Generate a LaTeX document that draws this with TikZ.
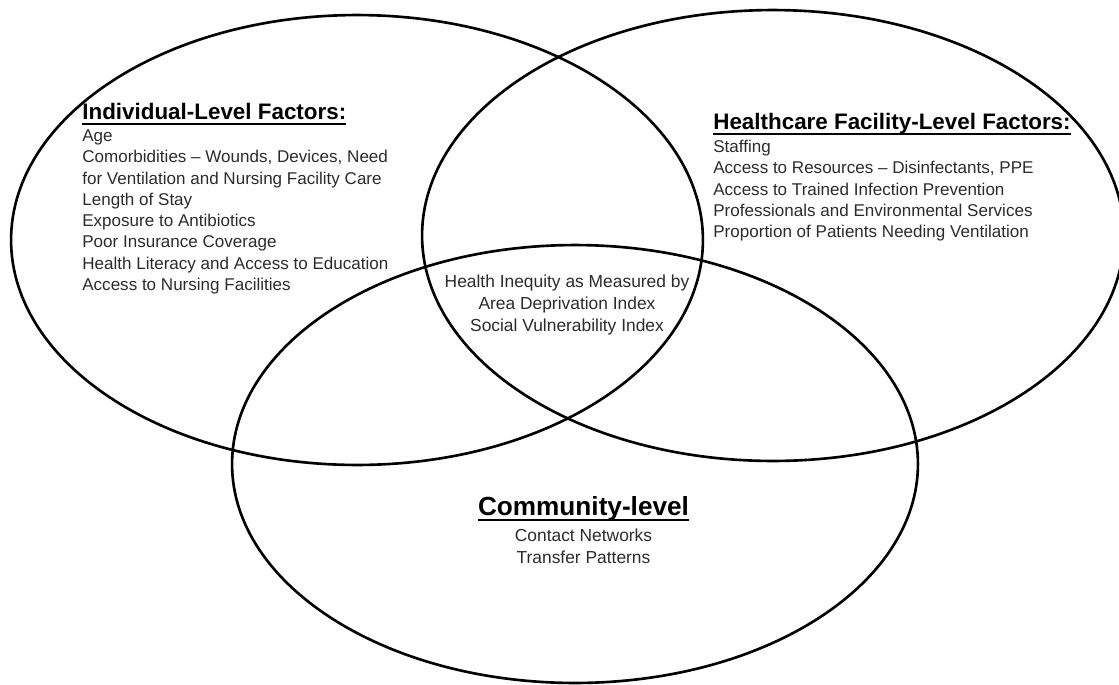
\documentclass[tikz,border=0pt]{standalone}
\usepackage{fontspec}
\setmainfont{Liberation Sans}
\usetikzlibrary{shapes.geometric, positioning}
\definecolor{vnntext}{HTML}{2B2B2B}
% thick underline for the headings
\newcommand{\vnnul}[1]{\setbox0\hbox{#1}\leavevmode\rlap{\rule[-3.15pt]{\wd0}{1.1pt}}\box0}
\tikzset{
  zone/.style={ellipse, draw=black, line width=1.5pt, inner sep=0pt},
  head/.style={font=\fontsize{12.75}{15}\selectfont\bfseries, inner sep=0pt, text=black},
  bighead/.style={font=\fontsize{14.9}{17}\selectfont\bfseries, inner sep=0pt, text=black},
  items/.style={font=\fontsize{9.7}{12.1}\selectfont, align=left, inner sep=0pt, text=vnntext},
  midtext/.style={font=\fontsize{9.9}{12.5}\selectfont, align=center, inner sep=0pt, text=vnntext},
}

\begin{document}
\begin{tikzpicture}[x=0.02cm, y=-0.02cm]
  \useasboundingbox (0,0) rectangle (1119,684);
  % three overlapping circles
  \node[zone, minimum width=13.84cm, minimum height=9cm] (indiv) at (357,240) {};
  \node[zone, minimum width=14.04cm, minimum height=9.02cm] (facil) at (773,235.5) {};
  \node[zone, minimum width=13.72cm, minimum height=8.76cm] (commu) at (575,464) {};

  \node[head, anchor=base west] (indhead) at (82,119.5) {\vnnul{Individual-Level Factors:}};
  \node[items, below=0.2cm of indhead.base west, anchor=north west] (indlist) {Age\\
    Comorbidities -- Wounds, Devices, Need\\
    for Ventilation and Nursing Facility Care\\
    Length of Stay\\
    Exposure to Antibiotics\\
    Poor Insurance Coverage\\
    Health Literacy and Access to Education\\
    Access to Nursing Facilities};

  \node[head, anchor=base west] (facilhead) at (713,129) {\vnnul{Healthcare Facility-Level Factors:}};
  \node[items, below=0.22cm of facilhead.base west, anchor=north west] (facillist) {Staffing\\
    Access to Resources -- Disinfectants, PPE\\
    Access to Trained Infection Prevention\\
    Professionals and Environmental Services\\
    Proportion of Patients Needing Ventilation};

  \node[midtext, anchor=north] (inequity) at (567,274.5) {Health Inequity as Measured by\\
    Area Deprivation Index\\
    Social Vulnerability Index};

  \node[bighead, anchor=base] (commhead) at (583.5,515) {\vnnul{Community-level}};
  \node[midtext, below=0.27cm of commhead.base, anchor=north] (commlist) {Contact Networks\\
    Transfer Patterns};
\end{tikzpicture}
\end{document}
